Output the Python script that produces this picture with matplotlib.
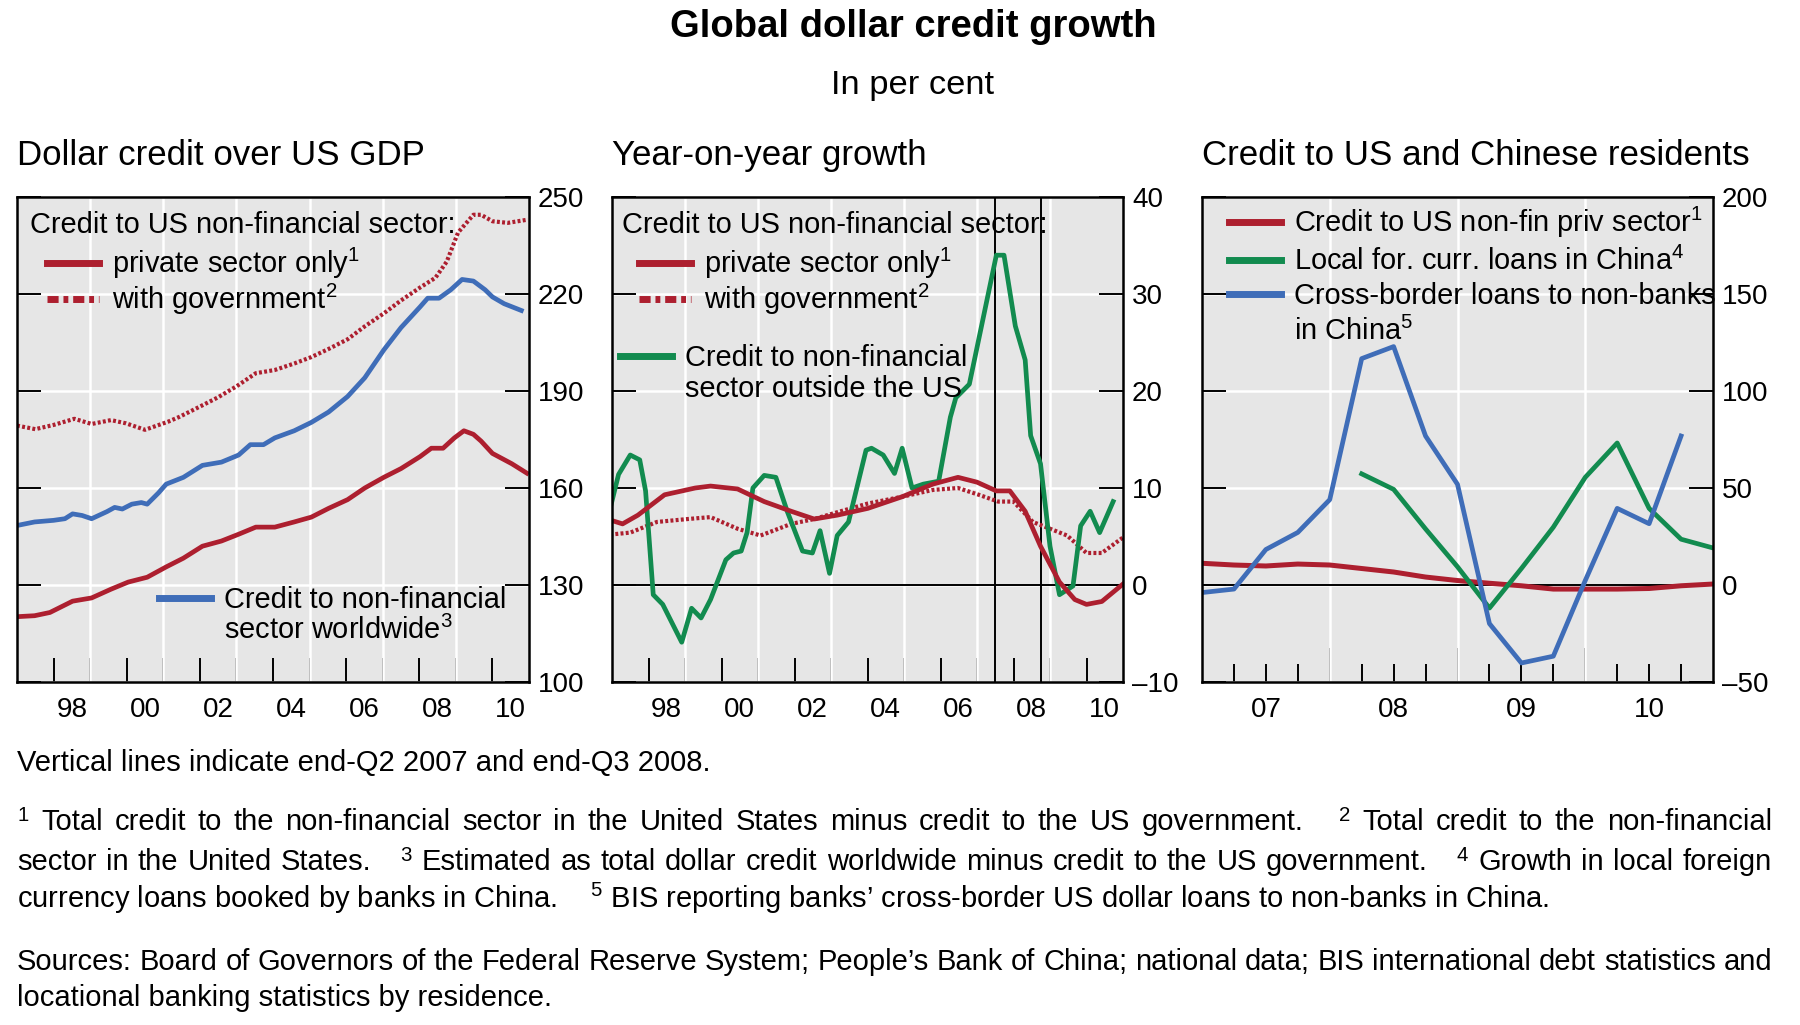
import matplotlib
matplotlib.use('Agg')
import matplotlib.pyplot as plt
from matplotlib.lines import Line2D
from matplotlib.legend import Legend

plt.rcParams['font.family'] = ['Liberation Sans', 'DejaVu Sans']
plt.rcParams['mathtext.fontset'] = 'custom'
plt.rcParams['mathtext.rm'] = 'Liberation Sans'
plt.rcParams['mathtext.it'] = 'Liberation Sans:italic'
plt.rcParams['mathtext.bf'] = 'Liberation Sans:bold'

W, H = 1800, 1025
RED = '#ad1f2f'
BLUE = '#3f6db8'
GREEN = '#128b4f'
BG = '#e6e6e6'

# ---- panel 1: dollar credit over US GDP ----
p1_priv_x = [1997.0, 1997.48, 1997.9, 1998.52, 1999.04, 1999.57, 2000.04, 2000.56, 2001.08, 2001.55,
             2002.07, 2002.59, 2003.06, 2003.53, 2004.05, 2004.58, 2005.05, 2005.52, 2006.04, 2006.51,
             2007.03, 2007.5, 2008.02, 2008.33, 2008.65, 2008.96, 2009.22, 2009.48, 2009.69, 2010.0,
             2010.53, 2010.94]
p1_priv = [120.2, 120.5, 121.5, 125.0, 126.0, 128.7, 130.9, 132.4, 135.6, 138.3,
           142.0, 143.6, 145.7, 147.9, 147.9, 149.5, 151.0, 153.7, 156.4, 160.0,
           163.3, 166.0, 169.7, 172.3, 172.3, 175.5, 177.7, 176.6, 174.5, 170.7,
           167.5, 164.6]

p1_gov_x = [1997.0, 1997.5, 1998.0, 1998.57, 1999.04, 1999.57, 1999.98, 2000.5, 2001.13, 2001.44,
            2001.97, 2002.49, 2003.01, 2003.53, 2004.05, 2004.58, 2005.05, 2005.52, 2006.04, 2006.51,
            2007.03, 2007.5, 2008.02, 2008.44, 2008.75, 2009.06, 2009.48, 2009.69, 2010.0, 2010.42,
            2010.97]
p1_gov = [179.3, 178.2, 179.5, 181.4, 179.8, 181.0, 180.0, 178.0, 180.5, 182.0,
          185.0, 188.0, 191.5, 195.5, 196.5, 198.5, 200.5, 203.0, 206.0, 210.0,
          214.0, 218.0, 222.0, 225.0, 230.0, 239.0, 244.5, 244.5, 242.5, 242.0,
          243.0]

p1_world_x = [1997.0, 1997.48, 1998.0, 1998.31, 1998.52, 1998.78, 1999.04, 1999.46, 1999.67, 1999.88,
              2000.14, 2000.4, 2000.56, 2000.87, 2001.08, 2001.55, 2002.07, 2002.59, 2003.06, 2003.38,
              2003.74, 2004.05, 2004.58, 2005.05, 2005.52, 2006.04, 2006.51, 2007.03, 2007.5, 2008.02,
              2008.23, 2008.54, 2008.86, 2009.17, 2009.48, 2009.8, 2010.0, 2010.32, 2010.79]
p1_world = [148.4, 149.5, 150.0, 150.5, 152.0, 151.5, 150.5, 152.7, 154.0, 153.5,
            155.0, 155.5, 155.0, 158.5, 161.2, 163.3, 167.0, 168.0, 170.2, 173.4,
            173.4, 175.5, 177.7, 180.3, 183.5, 188.3, 194.1, 202.7, 209.6, 216.0,
            218.7, 218.7, 221.3, 224.5, 224.0, 221.3, 219.1, 217.0, 214.9]

# ---- panel 2: year-on-year growth ----
p2_priv_x = [1996.95, 1997.29, 1997.71, 1998.44, 1999.28, 1999.7, 2000.44, 2001.17, 2001.91, 2002.54,
             2003.17, 2004.01, 2004.95, 2005.79, 2006.48, 2007.0, 2007.53, 2007.9, 2008.32, 2008.74,
             2009.26, 2009.68, 2010.0, 2010.42, 2011.0]
p2_priv = [6.7, 6.3, 7.2, 9.3, 10.0, 10.2, 9.9, 8.6, 7.6, 6.8,
           7.2, 7.9, 9.1, 10.4, 11.1, 10.6, 9.7, 9.7, 7.6, 4.0,
           0.3, -1.5, -2.0, -1.7, 0.1]

p2_gov_x = [1996.95, 1997.5, 1998.23, 1999.07, 1999.7, 2000.44, 2001.07, 2001.91, 2002.54, 2003.17,
            2004.01, 2004.95, 2005.79, 2006.48, 2007.05, 2007.58, 2008.0, 2008.53, 2009.0, 2009.47,
            2010.0, 2010.42, 2011.0]
p2_gov = [5.2, 5.4, 6.5, 6.8, 7.0, 5.8, 5.1, 6.3, 6.8, 7.5,
          8.4, 9.1, 9.8, 10.0, 9.3, 8.6, 8.6, 6.5, 5.8, 5.1,
          3.3, 3.3, 4.9]

p2_out_x = [1996.95, 1997.18, 1997.5, 1997.76, 1997.92, 1998.13, 1998.39, 1998.91, 1999.18, 1999.44,
            1999.7, 2000.12, 2000.33, 2000.54, 2000.7, 2000.86, 2001.17, 2001.49, 2001.8, 2002.22,
            2002.49, 2002.7, 2002.96, 2003.17, 2003.48, 2003.96, 2004.11, 2004.43, 2004.74, 2004.95,
            2005.22, 2005.53, 2005.95, 2006.27, 2006.42, 2006.79, 2007.53, 2007.74, 2008.05, 2008.32,
            2008.47, 2008.74, 2009.0, 2009.26, 2009.63, 2009.84, 2010.1, 2010.36, 2010.73]
p2_out = [7.9, 11.4, 13.4, 12.9, 9.7, -1.0, -2.0, -5.9, -2.4, -3.4,
          -1.5, 2.6, 3.3, 3.5, 5.4, 10.0, 11.3, 11.1, 7.6, 3.5,
          3.3, 5.6, 1.2, 5.1, 6.5, 13.9, 14.1, 13.4, 11.5, 14.1,
          10.0, 10.4, 10.7, 17.3, 19.3, 20.7, 34.0, 34.0, 26.7, 23.2,
          15.4, 12.5, 4.0, -1.0, -0.1, 6.1, 7.6, 5.4, 8.6]

crisis_lines = [2007.5, 2008.75]

# ---- panel 3: credit to US and Chinese residents ----
p3_us_x = [2007.0, 2007.25, 2007.5, 2007.75, 2008.0, 2008.25, 2008.5, 2008.75, 2009.0,
           2009.25, 2009.5, 2009.75, 2010.0, 2010.25, 2010.5, 2010.75, 2011.0]
p3_us = [11.2, 10.3, 9.8, 10.8, 10.3, 8.5, 6.7, 4.1, 2.3,
         0.9, -0.4, -2.1, -2.1, -2.1, -1.8, -0.4, 0.5]

p3_local_x = [2008.25, 2008.5, 2008.75, 2009.0, 2009.25, 2009.5, 2009.75, 2010.0,
              2010.25, 2010.5, 2010.75, 2011.0]
p3_local = [57.3, 49.3, 28.9, 9.4, -11.9, 8.5, 29.8, 55.5,
            73.2, 39.5, 23.6, 19.1]

p3_cross_x = [2007.0, 2007.25, 2007.5, 2007.75, 2008.0, 2008.25, 2008.5, 2008.75,
              2009.0, 2009.25, 2009.5, 2009.75, 2010.0, 2010.25, 2010.5, 2010.75]
p3_cross = [-3.9, -2.1, 18.3, 27.1, 44.0, 116.7, 122.9, 76.8,
            51.9, -19.9, -40.2, -36.7, 2.3, 39.5, 31.6, 76.8]

# axis ticks / labels
p12_year_ticks = [1998, 1999, 2000, 2001, 2002, 2003, 2004, 2005, 2006, 2007, 2008, 2009, 2010]
p12_grid_years = [1999, 2001, 2003, 2005, 2007, 2009]
p12_label_pos = [1998.5, 2000.5, 2002.5, 2004.5, 2006.5, 2008.5, 2010.5]
p12_labels = ['98', '00', '02', '04', '06', '08', '10']
p3_year_ticks = [2008, 2009, 2010]
p3_quarter_ticks = [2007.25, 2007.5, 2007.75, 2008.25, 2008.5, 2008.75, 2009.25, 2009.5,
                    2009.75, 2010.25, 2010.5, 2010.75]
p3_label_pos = [2007.5, 2008.5, 2009.5, 2010.5]
p3_labels = ['07', '08', '09', '10']

p1_yticks = [100, 130, 160, 190, 220, 250]
p2_yticks = [-10, 0, 10, 20, 30, 40]
p3_yticks = [-50, 0, 50, 100, 150, 200]

fig = plt.figure(figsize=(18, 10.25), dpi=100)

TOP, BOTTOM = 197, 682
LEG = 20.9
TICK = 20


def make_axes(left, right):
    return fig.add_axes([left / W, 1 - BOTTOM / H, (right - left) / W, (BOTTOM - TOP) / H])


def style(ax, xlim, ylim, yticks, xmajor, xmajor_len, grid_x, label_pos, labels, xminor=None):
    ax.set_facecolor(BG)
    ax.set_xlim(*xlim)
    ax.set_ylim(*ylim)
    for s in ax.spines.values():
        s.set_linewidth(1.8)
        s.set_color('black')
    ax.set_yticks(yticks)
    ax.set_yticklabels([str(v).replace('-', '\u2013') for v in yticks])
    ax.tick_params(axis='y', which='both', direction='in', length=17.5, width=1.4,
                   left=True, right=True, labelleft=False, labelright=True,
                   pad=6.5, labelsize=TICK)
    ax.grid(axis='y', color='white', lw=1.8)
    ax.set_axisbelow(True)
    for g in grid_x:
        ax.axvline(g, color='white', lw=1.8, zorder=0.6)
    ax.set_xticks(xmajor)
    ax.set_xticklabels([])
    ax.tick_params(axis='x', which='major', direction='in', length=xmajor_len, width=1.4,
                   top=False, bottom=True)
    if xminor is not None:
        ax.set_xticks(xminor, minor=True)
        ax.tick_params(axis='x', which='minor', direction='in', length=13, width=1.4,
                       top=False, bottom=True)
    sec = ax.secondary_xaxis('bottom')
    sec.set_xticks(label_pos, labels=labels)
    sec.tick_params(length=0, pad=11, labelsize=TICK)
    sec.spines['bottom'].set_visible(False)


def add_legend(ax, left, width, handles, labels, px, ptop, spacing):
    leg = Legend(ax, handles, labels, loc='upper left',
                 bbox_to_anchor=((px - left) / width, 1 - (ptop - TOP) / (BOTTOM - TOP)),
                 frameon=False, borderpad=0, borderaxespad=0, fontsize=LEG,
                 handlelength=1.8, handletextpad=0.45, labelspacing=spacing)
    ax.add_artist(leg)


def panel_title(x, text):
    fig.text(x / W, 1 - 165 / H, text, fontsize=25.1, va='baseline', ha='left')


h_red = Line2D([], [], color=RED, lw=5)
h_gov = Line2D([], [], color=RED, lw=5, linestyle=(0, (1.6, 0.7, 0.7, 0.7)))
h_blue = Line2D([], [], color=BLUE, lw=5)
h_green = Line2D([], [], color=GREEN, lw=5)
h_blank = Line2D([], [], color='none')

# panel 1
L1, R1 = 17, 529
ax1 = make_axes(L1, R1)
style(ax1, (1997, 2011), (100, 250), p1_yticks, p12_year_ticks, 17.5, p12_grid_years,
      p12_label_pos, p12_labels)
ax1.plot(p1_gov_x, p1_gov, color=RED, lw=3.0, linestyle=(0, (0.7, 0.55)))
ax1.plot(p1_world_x, p1_world, color=BLUE, lw=3.4, solid_joinstyle='round')
ax1.plot(p1_priv_x, p1_priv, color=RED, lw=3.4, solid_joinstyle='round')
ax1.text((30 - L1) / (R1 - L1), 1 - (233 - TOP) / (BOTTOM - TOP),
         'Credit to US non-financial sector:', transform=ax1.transAxes,
         fontsize=LEG, va='baseline', ha='left')
add_legend(ax1, L1, R1 - L1, [h_red, h_gov], ['private sector only$^1$', 'with government$^2$'],
           47, 246, 0.02)
add_legend(ax1, L1, R1 - L1, [h_blue, h_blank], ['Credit to non-financial', 'sector worldwide$^3$'],
           159, 586, 0.05)
panel_title(17, 'Dollar credit over US GDP')

# panel 2
L2, R2 = 612, 1123
ax2 = make_axes(L2, R2)
style(ax2, (1997, 2011), (-10, 40), p2_yticks, p12_year_ticks, 17.5, p12_grid_years,
      p12_label_pos, p12_labels)
ax2.axhline(0, color='black', lw=1.4, zorder=1.5)
for v in crisis_lines:
    ax2.axvline(v, color='black', lw=1.4, zorder=1.5)
ax2.plot(p2_gov_x, p2_gov, color=RED, lw=3.0, linestyle=(0, (0.7, 0.55)))
ax2.plot(p2_out_x, p2_out, color=GREEN, lw=3.4, solid_joinstyle='round')
ax2.plot(p2_priv_x, p2_priv, color=RED, lw=3.4, solid_joinstyle='round')
ax2.text((622 - L2) / (R2 - L2), 1 - (233 - TOP) / (BOTTOM - TOP),
         'Credit to US non-financial sector:', transform=ax2.transAxes,
         fontsize=LEG, va='baseline', ha='left')
add_legend(ax2, L2, R2 - L2, [h_red, h_gov], ['private sector only$^1$', 'with government$^2$'],
           639, 246, 0.02)
add_legend(ax2, L2, R2 - L2, [h_green, h_blank], ['Credit to non-financial', 'sector outside the US'],
           620, 344, 0.1)
panel_title(612, 'Year-on-year growth')

# panel 3
L3, R3 = 1202, 1713
ax3 = make_axes(L3, R3)
style(ax3, (2007, 2011), (-50, 200), p3_yticks, p3_year_ticks, 24.5, p3_year_ticks,
      p3_label_pos, p3_labels, xminor=p3_quarter_ticks)
ax3.axhline(0, color='black', lw=1.4, zorder=1.5)
ax3.plot(p3_us_x, p3_us, color=RED, lw=3.6, solid_joinstyle='round')
ax3.plot(p3_local_x, p3_local, color=GREEN, lw=3.4, solid_joinstyle='round')
ax3.plot(p3_cross_x, p3_cross, color=BLUE, lw=3.4, solid_joinstyle='round')
add_legend(ax3, L3, R3 - L3, [h_red, h_green, h_blue, h_blank],
           ['Credit to US non-fin priv sector$^1$', 'Local for. curr. loans in China$^4$',
            'Cross-border loans to non-banks', 'in China$^5$'],
           1229, 205, 0.22)
panel_title(1202, 'Credit to US and Chinese residents')

# titles
fig.text(913 / W, 1 - 37 / H, 'Global dollar credit growth', fontsize=27.5, weight='bold',
         ha='center', va='baseline')
fig.text(913 / W, 1 - 94 / H, 'In per cent', fontsize=24.8, ha='center', va='baseline')

# footnotes
FOOT = 21
X0, X1 = 17, 1772
renderer = fig.canvas.get_renderer()


def plain_line(text, base):
    fig.text(X0 / W, 1 - base / H, text, fontsize=FOOT, va='baseline', ha='left')


def justified_line(text, base):
    parts = text.split(' ')
    words, gaps = [], []
    run = 0
    for p in parts:
        if p == '':
            run += 1
            continue
        if words:
            gaps.append(run + 1)
        words.append(p)
        run = 0
    texts = [fig.text(0, 1 - base / H, w, fontsize=FOOT, va='baseline', ha='left') for w in words]
    widths = [t.get_window_extent(renderer=renderer).width for t in texts]
    unit = (X1 - X0 - sum(widths)) / sum(gaps)
    x = X0
    for i, t in enumerate(texts):
        t.set_x(x / W)
        if i < len(gaps):
            x += widths[i] + gaps[i] * unit


plain_line('Vertical lines indicate end-Q2 2007 and end-Q3 2008.', 771)
justified_line('$^1$ Total credit to the non-financial sector in the United States minus credit to the US '
               'government.   $^2$ Total credit to the non-financial', 830)
justified_line('sector in the United States.   $^3$ Estimated as total dollar credit worldwide minus credit '
               'to the US government.   $^4$ Growth in local foreign', 870)
plain_line('currency loans booked by banks in China.    $^5$ BIS reporting banks\u2019 cross-border US dollar '
           'loans to non-banks in China.', 908)
justified_line('Sources: Board of Governors of the Federal Reserve System; People\u2019s Bank of China; '
               'national data; BIS international debt statistics and', 970)
plain_line('locational banking statistics by residence.', 1006)

fig.savefig('out.png', dpi=100)
